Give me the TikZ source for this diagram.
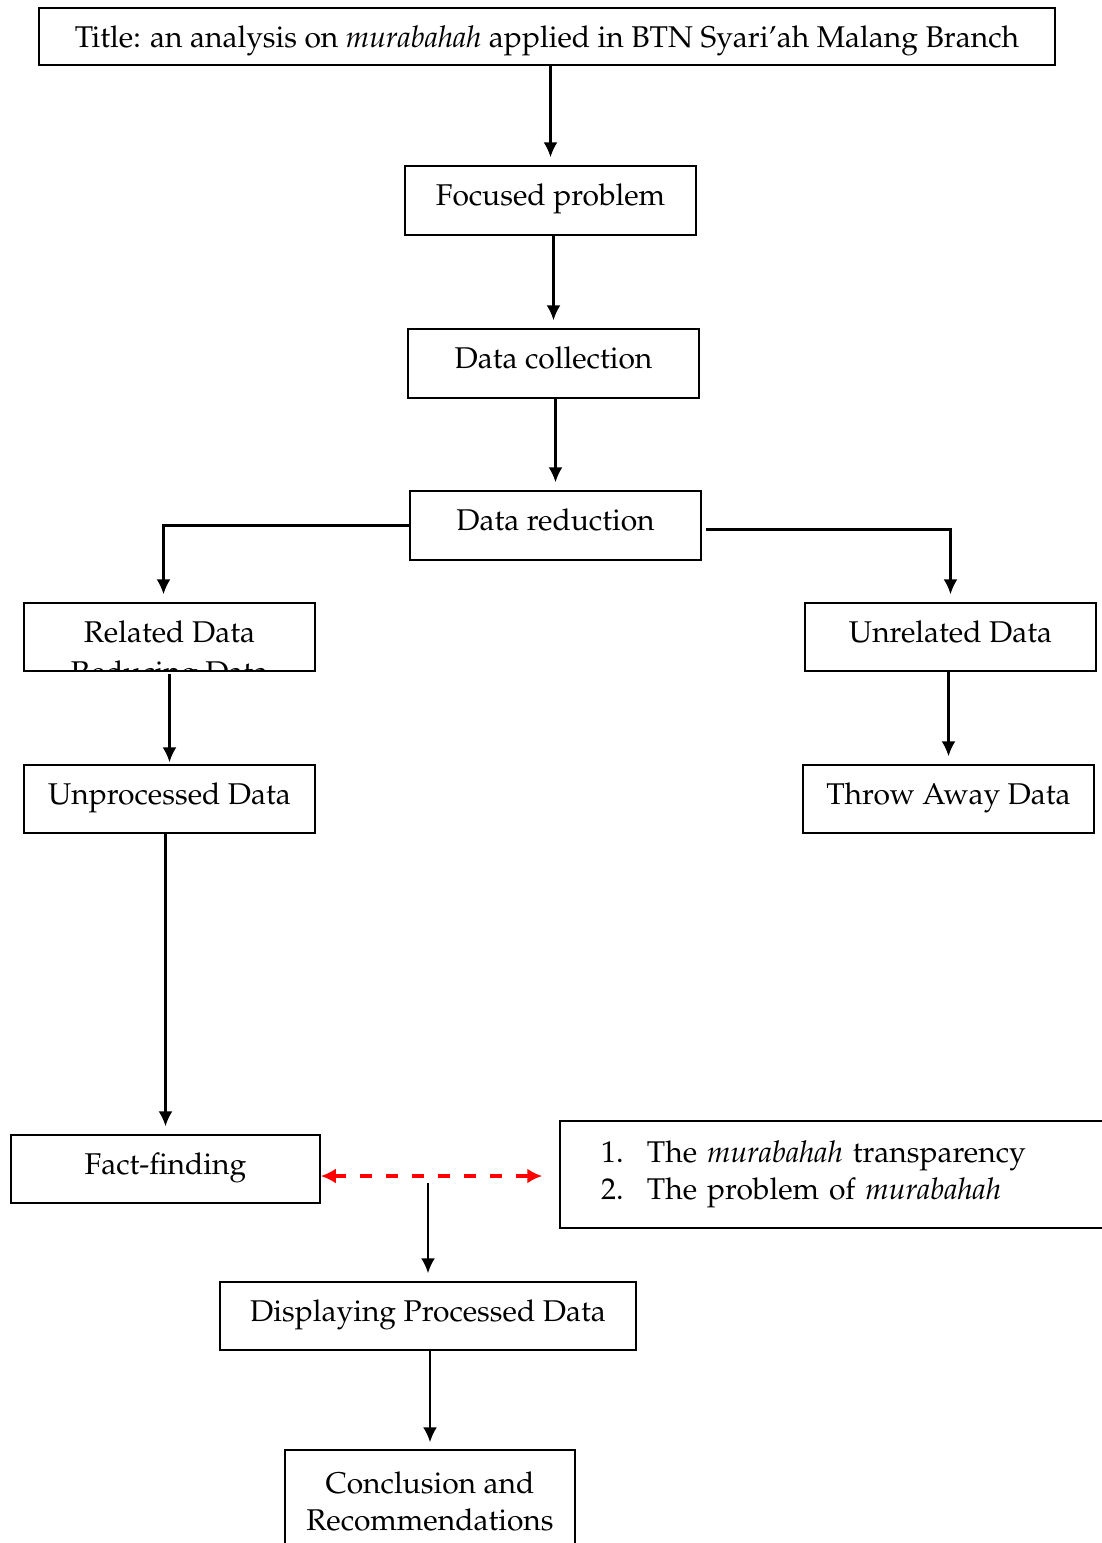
\documentclass[tikz,border=0pt]{standalone}
\usepackage[T1]{fontenc}
\usepackage{mathpazo}
\usepackage{xcolor}
\usepackage{tikz}
\usetikzlibrary{positioning,arrows.meta,calc}
\tikzstyle{block} = [rectangle, draw, line width=0.75pt, inner sep=0pt,
minimum width=145.5pt, text height=19.5pt, text depth=15pt, text centered]
\tikzstyle{line} = [draw, line width=1.1pt, -{Latex[length=7.5pt,width=7pt]}, shorten >=4pt]
\tikzstyle{dashline} = [draw, red, line width=2pt, dash pattern=on 6pt off 7pt,
{Latex[length=7.5pt,width=7.5pt]}-{Latex[length=7.5pt,width=7.5pt]}]

\begin{document}
\begin{tikzpicture}[x=0.5pt,y=-0.5pt, every node/.style={font=\fontsize{15pt}{18.5pt}\selectfont}]
    \useasboundingbox (0,0) rectangle (1102,1543);

    % Nodes
    \node [block, minimum width=508pt, text depth=9pt] (title) at (547,36.5)
        {Title: an analysis on \emph{murabahah} applied in BTN Syari'ah Malang Branch};
    \node [block, below=49.75pt of title, xshift=1.75pt] (focused_problem) {Focused problem};
    \node [block, below=46.25pt of focused_problem, xshift=1.5pt] (data_collection) {Data collection};
    \node [block, below=45.75pt of data_collection, xshift=1pt] (data_reduction) {Data reduction};

    \node [block, below left=20.75pt and 46.75pt of data_reduction, text depth=14.5pt] (related_data) {Related Data};
    \node [block, below right=20.75pt and 51.25pt of data_reduction, text depth=14.5pt] (unrelated_data) {Unrelated Data};
    \begin{scope}
        \clip ([yshift=0.4pt]related_data.south west) rectangle (related_data.north east);
        \node [anchor=base] (related_hidden) at ([yshift=-20pt]related_data.base) {Reducing Data};
    \end{scope}

    \node [block, below=46.25pt of related_data, text depth=14.5pt] (unprocessed_data) {Unprocessed Data};
    \node [block, below=46.25pt of unrelated_data, xshift=-1pt, text depth=14.5pt] (throw_away) {Throw Away Data};

    \node [block, below=150.25pt of unprocessed_data, xshift=-2pt, minimum width=154.5pt, text depth=14.5pt] (fact_finding) {Fact-finding};
    \node [rectangle, draw, line width=0.75pt, right=119.25pt of fact_finding, yshift=-2.75pt,
        minimum height=53.5pt, inner xsep=20.5pt, inner ysep=0pt, text width=270pt, align=left] (list_box)
        {\makebox[23pt][l]{1.}The \emph{murabahah} transparency\\
         \makebox[23pt][l]{2.}The problem of \emph{murabahah}};

    \node [block, below right=38.75pt and -50.75pt of fact_finding, minimum width=208pt, text depth=14.5pt] (displaying_data) {Displaying Processed Data};
    \node [rectangle, draw, line width=0.75pt, below=49.25pt of displaying_data, xshift=1pt,
        minimum width=145pt, minimum height=51pt, inner sep=0pt, align=center] (conclusion)
        {Conclusion and\\Recommendations};

    \coordinate (dash_start) at ([yshift=-3.5pt]fact_finding.east);
    \coordinate (dash_end) at ([xshift=-8.5pt]dash_start -| list_box.west);
    \coordinate (split) at ([yshift=-3.5pt]dash_start -| displaying_data.north);

    % Connectors
    \draw[line] (title.south -| focused_problem.north) -- (focused_problem.north);
    \draw[line] (focused_problem.south -| data_collection.north) -- (data_collection.north);
    \draw[line] (data_collection.south -| data_reduction.north) -- (data_reduction.north);
    \draw[line] (data_reduction.west) -| ([xshift=-3pt]related_data.north);
    \draw[line, shorten <=2pt] ([yshift=-2pt]data_reduction.east) -| (unrelated_data.north);
    \draw[line, shorten <=1pt, shorten >=1pt] (related_data) -- (unprocessed_data);
    \draw[line] (unrelated_data.south -| throw_away.north) -- (throw_away.north);
    \draw[line] (unprocessed_data.south -| fact_finding.north) -- (fact_finding.north);
    \draw[dashline] (dash_start) -- (dash_end);
    \draw[line] (split) -- (displaying_data);
    \draw[line, shorten >=3.5pt] (displaying_data.south -| conclusion.north) -- (conclusion.north);

\end{tikzpicture}
\end{document}
